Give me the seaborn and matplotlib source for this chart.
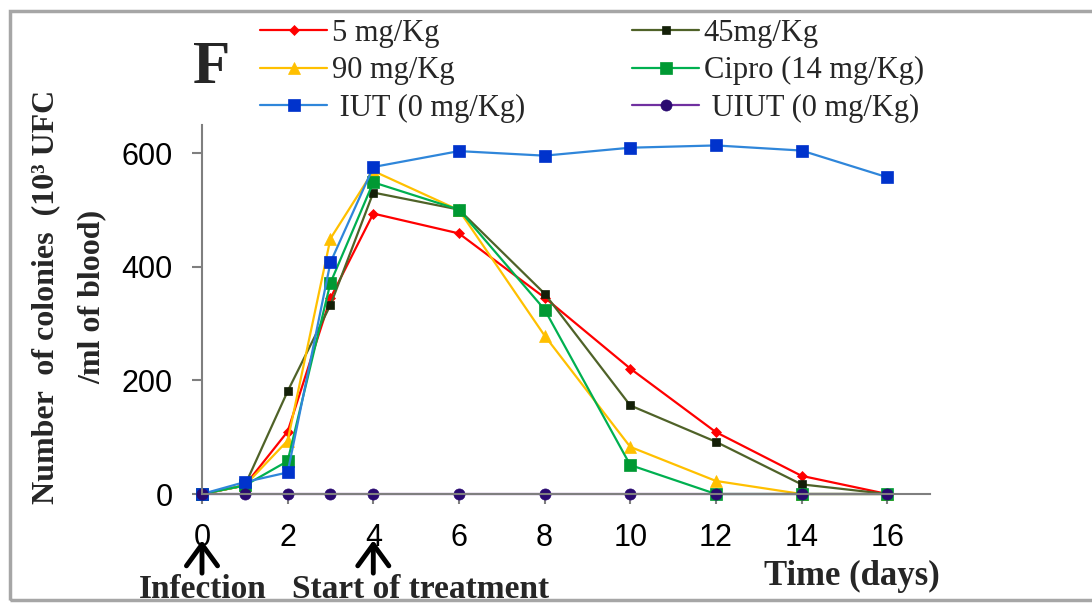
import seaborn as sns
import matplotlib.pyplot as plt
import pandas as pd
from matplotlib.patches import Rectangle

# dias de amostragem
dias = [0, 1, 2, 3, 4, 6, 8, 10, 12, 14, 16]

# colônias (10^3 UFC / ml de sangue)
dose_5 = [0, 15, 110, 345, 494, 459, 346, 221, 109, 32, 0]
dose_45 = [0, 15, 181, 333, 531, 501, 353, 156, 92, 17, 0]
dose_90 = [0, 15, 94, 450, 569, 500, 279, 83, 23, 0, 0]
cipro = [0, 15, 58, 372, 549, 501, 325, 51, 0, 0, 0]
iut = [0, 21, 38, 408, 576, 604, 596, 610, 614, 605, 558]
uiut = [0, 0, 0, 0, 0, 0, 0, 0, 0, 0, 0]

rotulos = ["5 mg/Kg", "45mg/Kg", "90 mg/Kg", "Cipro (14 mg/Kg)", " IUT (0 mg/Kg)", " UIUT (0 mg/Kg)"]
series = [dose_5, dose_45, dose_90, cipro, iut, uiut]

# estilo de cada série: cor da linha, marcador, cor do marcador, tamanho
estilos = [
    ("#FF0000", "D", "#FF0000", 5),
    ("#4F6228", "s", "#142008", 6),
    ("#FFC000", "^", "#FFC000", 8),
    ("#00B050", "s", "#009933", 8),
    ("#2F86DA", "s", "#0033CC", 8),
    ("#7030A0", "o", "#2A0A70", 8),
]

sns.set_style("ticks")
fig = plt.figure(figsize=(10.92, 6.06), dpi=100)
ax = fig.add_axes([202 / 1092, 112 / 606, 728 / 1092, 369 / 606])

for rotulo, valores, (cor, marcador, cor_marc, tam) in zip(rotulos, series, estilos):
    df = pd.DataFrame({"Dia": dias, "Colonias": valores})
    sns.lineplot(
        data=df, x="Dia", y="Colonias", ax=ax, color=cor, linewidth=1.6,
        marker=marcador, markersize=tam, markerfacecolor=cor_marc,
        markeredgecolor=cor_marc, markeredgewidth=0.5, label=rotulo, clip_on=False,
    )

ax.set_xlim(0, 17)
ax.set_ylim(0, 650)
ax.set_xticks(range(0, 17, 2))
ax.set_yticks([0, 200, 400, 600])
ax.set_xlabel("")
ax.set_ylabel("")
for lado in ["top", "right"]:
    ax.spines[lado].set_visible(False)
for lado in ["left", "bottom"]:
    ax.spines[lado].set_color("#7F7F7F")
    ax.spines[lado].set_linewidth(1.5)
ax.tick_params(axis="both", colors="#7F7F7F", width=1.5, length=7, pad=14,
               labelsize=22, labelcolor="black")
for t in ax.get_xticklabels() + ax.get_yticklabels():
    t.set_family("Liberation Sans")

# legenda em duas colunas acima do gráfico
handles, labels = ax.get_legend_handles_labels()
ordem = [0, 2, 4, 1, 3, 5]
ax.legend([handles[i] for i in ordem], [labels[i] for i in ordem], ncol=2,
          loc="upper left", bbox_to_anchor=(260 / 1092, 1 - 19 / 606),
          bbox_transform=fig.transFigure, frameon=False, borderpad=0,
          borderaxespad=0, handlelength=2.2, handletextpad=0.15,
          columnspacing=3.5, labelspacing=0.27,
          prop={"family": "Liberation Serif", "size": 22})

fig.text(212 / 1092, 1 - 68 / 606, "F", family="Liberation Serif", weight="bold",
         size=44, ha="center", va="center")

fig.text(69 / 1092, 1 - 297 / 606, "Number  of colonies  (10³ UFC\n/ml of blood)",
         family="Liberation Serif", weight="bold", size=23, rotation=90,
         ha="center", va="center", multialignment="center", linespacing=1.8)

fig.text(852 / 1092, 1 - 576 / 606, "Time (days)", family="Liberation Serif",
         weight="bold", size=25, ha="center", va="center")

# setas: infecção e início do tratamento
trans = ax.get_xaxis_transform()
for dia, texto, xt in [(0, "Infection", 203), (4, "Start of treatment", 421)]:
    ax.annotate("", xy=(dia, -0.118), xytext=(dia, -0.222), xycoords=trans,
                textcoords=trans, annotation_clip=False,
                arrowprops=dict(arrowstyle="->,head_length=1.1,head_width=0.8",
                                mutation_scale=14, color="black", lw=3.5))
    fig.text(xt / 1092, 1 - 589 / 606, texto, family="Liberation Serif",
             weight="bold", size=24, ha="center", va="center")

# moldura cinza da figura
fig.patches.append(Rectangle((10 / 1092, 6 / 606), 1.05, 589 / 606,
                             transform=fig.transFigure, fill=False,
                             edgecolor="#A6A6A6", linewidth=2.5))

fig.savefig("out.png", dpi=100)
